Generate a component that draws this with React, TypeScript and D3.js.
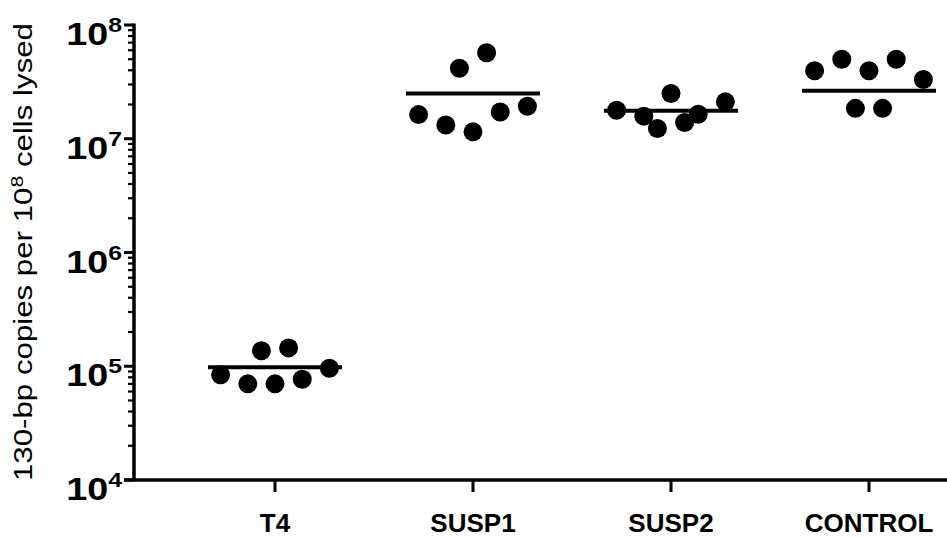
import React, { useEffect, useRef } from 'react';
import * as d3 from 'd3';

// values (copies per 10^8 cells), points left to right
const groups = ['T4', 'SUSP1', 'SUSP2', 'CONTROL'];
const t4Values = [8.4e4, 7.0e4, 1.37e5, 7.0e4, 1.45e5, 7.7e4, 9.6e4];
const susp1Values = [1.63e7, 1.32e7, 4.16e7, 1.15e7, 5.7e7, 1.72e7, 1.93e7];
const susp2Values = [1.78e7, 1.58e7, 1.23e7, 2.5e7, 1.39e7, 1.64e7, 2.11e7];
const controlValues = [3.96e7, 4.99e7, 1.85e7, 3.96e7, 1.85e7, 4.99e7, 3.32e7];
const meanValues = [9.8e4, 2.5e7, 1.76e7, 2.64e7];
const yTickExps = [4, 5, 6, 7, 8];

const W = 947;
const H = 538;
const FONT = 'Arial, "Liberation Sans", sans-serif';

export default function App() {
  const ref = useRef<SVGSVGElement>(null);

  useEffect(() => {
    const svg = d3.select(ref.current);
    svg.selectAll('*').remove();

    const allValues = [t4Values, susp1Values, susp2Values, controlValues];

    const x = d3.scalePoint<string>().domain(groups).range([275, 869]);
    const y = d3.scaleLog().domain([1e4, 1e8]).range([480, 25]);

    // horizontal scatter pattern used by the dot plot
    const spread = [-4, -2, -1, 0, 1, 2, 4];
    const step = 13.6;
    const r = 9.5;
    const halfLine = 67;

    // y axis
    const axisX = 134;
    svg.append('line')
      .attr('x1', axisX).attr('x2', axisX)
      .attr('y1', y(1e8) - 1.5).attr('y2', y(1e4))
      .attr('stroke', '#000').attr('stroke-width', 3.5);

    // minor ticks
    const minor: number[] = [];
    for (let e = 4; e < 8; e++) {
      for (let k = 2; k <= 9; k++) minor.push(k * Math.pow(10, e));
    }
    svg.selectAll('.minor')
      .data(minor)
      .enter()
      .append('line')
      .attr('x1', axisX - 6).attr('x2', axisX)
      .attr('y1', d => y(d)).attr('y2', d => y(d))
      .attr('stroke', '#000').attr('stroke-width', 2.2);

    // major ticks
    svg.selectAll('.major')
      .data(yTickExps)
      .enter()
      .append('line')
      .attr('x1', axisX - 10).attr('x2', axisX)
      .attr('y1', d => y(Math.pow(10, d))).attr('y2', d => y(Math.pow(10, d)))
      .attr('stroke', '#000').attr('stroke-width', 3);

    const lbl = svg.selectAll('.ylbl')
      .data(yTickExps)
      .enter()
      .append('text')
      .attr('transform', d => `translate(122,${y(Math.pow(10, d)) + 20}) scale(1.18,1)`)
      .attr('text-anchor', 'end')
      .attr('font-family', FONT)
      .attr('font-weight', 'bold')
      .attr('font-size', 32);
    lbl.append('tspan').text('10');
    lbl.append('tspan')
      .attr('dy', -13)
      .attr('font-size', 21)
      .text(d => String(d));

    // y title
    const title = svg.append('text')
      .attr('transform', 'translate(32,252) rotate(-90) scale(1.25,1)')
      .attr('text-anchor', 'middle')
      .attr('font-family', FONT)
      .attr('font-size', 25);
    title.append('tspan').text('130-bp copies per 10');
    title.append('tspan').attr('dy', -9).attr('font-size', 17).text('8');
    title.append('tspan').attr('dy', 9).text(' cells lysed');

    // x axis
    svg.append('line')
      .attr('x1', axisX - 10).attr('x2', W)
      .attr('y1', 480).attr('y2', 480)
      .attr('stroke', '#000').attr('stroke-width', 3.5);

    svg.selectAll('.xtick')
      .data(groups)
      .enter()
      .append('line')
      .attr('x1', d => x(d)!).attr('x2', d => x(d)!)
      .attr('y1', 480).attr('y2', 492)
      .attr('stroke', '#000').attr('stroke-width', 3);

    svg.selectAll('.xlbl')
      .data(groups)
      .enter()
      .append('text')
      .attr('x', d => x(d)!)
      .attr('y', 532)
      .attr('text-anchor', 'middle')
      .attr('font-family', FONT)
      .attr('font-weight', 'bold')
      .attr('font-size', 26)
      .text(d => d);

    // points
    groups.forEach((g, gi) => {
      svg.selectAll('.pt-' + gi)
        .data(allValues[gi])
        .enter()
        .append('circle')
        .attr('cx', (d, i) => x(g)! + spread[i] * step)
        .attr('cy', d => y(d))
        .attr('r', r)
        .attr('fill', '#000');
    });

    // mean lines
    svg.selectAll('.mean')
      .data(meanValues)
      .enter()
      .append('line')
      .attr('x1', (d, i) => x(groups[i])! - halfLine)
      .attr('x2', (d, i) => x(groups[i])! + halfLine)
      .attr('y1', d => y(d)).attr('y2', d => y(d))
      .attr('stroke', '#000').attr('stroke-width', 4);
  }, []);

  return (
    <svg
      ref={ref}
      width={W}
      height={H}
      style={{ position: 'absolute', left: 0, top: 0, background: '#fff' }}
    />
  );
}
